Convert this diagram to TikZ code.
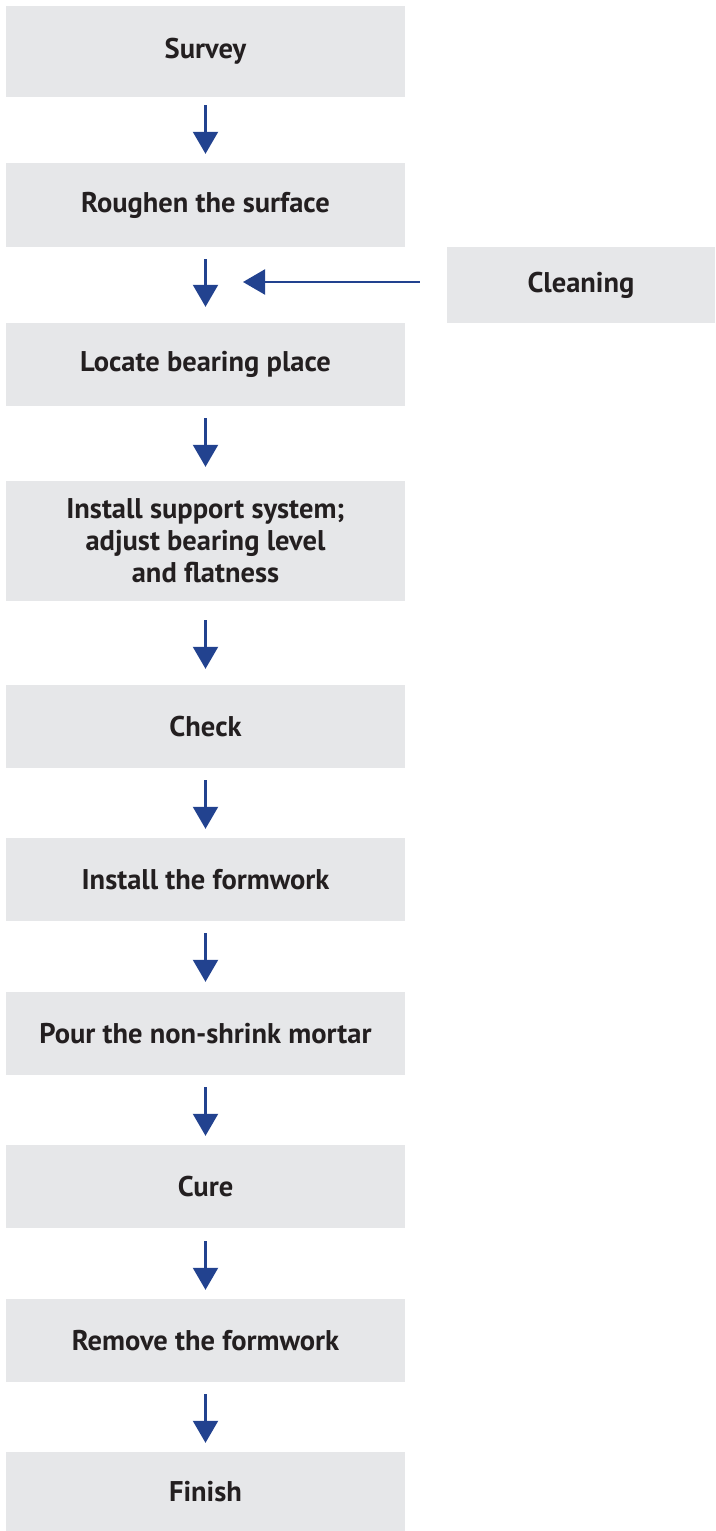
\documentclass[tikz,border=0pt]{standalone}
\usepackage{fontspec}
\setmainfont{PT Sans}
\usepackage{tikz}
\usetikzlibrary{arrows.meta}
\definecolor{boxgrey}{HTML}{E6E7E9}
\definecolor{flowblue}{HTML}{22428F}
\definecolor{inkdark}{HTML}{231F20}

\begin{document}
\begin{tikzpicture}[x=1pt, y=-1pt,
			stepbox/.style={fill = boxgrey, text = inkdark, inner sep=0pt, minimum width=399pt, minimum height=83pt, align = center, font=\fontsize{28.5}{32}\selectfont\bfseries},
			flow/.style={draw = flowblue, line width = 2.2pt, -{Triangle[width=25pt,length=22pt]}}
		]

		\useasboundingbox (0,0) rectangle (715,1531);

		\node[stepbox, minimum height=91pt] (survey) at (205.5,51.5) {Survey};
		\node[stepbox, minimum height=84pt] (roughen) at (205.5,205) {Roughen the surface};
		\node[stepbox, minimum width=268pt, minimum height=76pt] (cleaning) at (581,285) {Cleaning};
		\node[stepbox] (locate) at (205.5,364.5) {Locate bearing place};
		\node[stepbox, minimum height=120pt] (support) at (205.5,541) {Install support system;\\ adjust bearing level\\ and flatness};
		\node[stepbox] (check) at (205.5,726.5) {Check};
		\node[stepbox] (formwork) at (205.5,879.5) {Install the formwork};
		\node[stepbox] (pour) at (205.5,1033.5) {Pour the non-shrink mortar};
		\node[stepbox] (cure) at (205.5,1186.5) {Cure};
		\node[stepbox] (remove) at (205.5,1340.5) {Remove the formwork};
		\node[stepbox, minimum height=79pt] (finish) at (205.5,1491.5) {Finish};

		\coordinate (join) at (243,282);

		\draw[flow, shorten <=8pt, shorten >=9pt] (survey) -- (roughen);
		\draw[flow, shorten <=12pt, shorten >=16pt] (roughen) -- (locate);
		\draw[flow, shorten <=27pt] (cleaning.west |- join) -- (join);
		\draw[flow, shorten <=12pt, shorten >=14pt] (locate) -- (support);
		\draw[flow, shorten <=19pt, shorten >=16pt] (support) -- (check);
		\draw[flow, shorten <=12pt, shorten >=9pt] (check) -- (formwork);
		\draw[flow, shorten <=12pt, shorten >=10pt] (formwork) -- (pour);
		\draw[flow, shorten <=12pt, shorten >=9pt] (pour) -- (cure);
		\draw[flow, shorten <=13pt, shorten >=9pt] (cure) -- (remove);
		\draw[flow, shorten <=12pt, shorten >=9pt] (remove) -- (finish);
	\end{tikzpicture}
\end{document}
